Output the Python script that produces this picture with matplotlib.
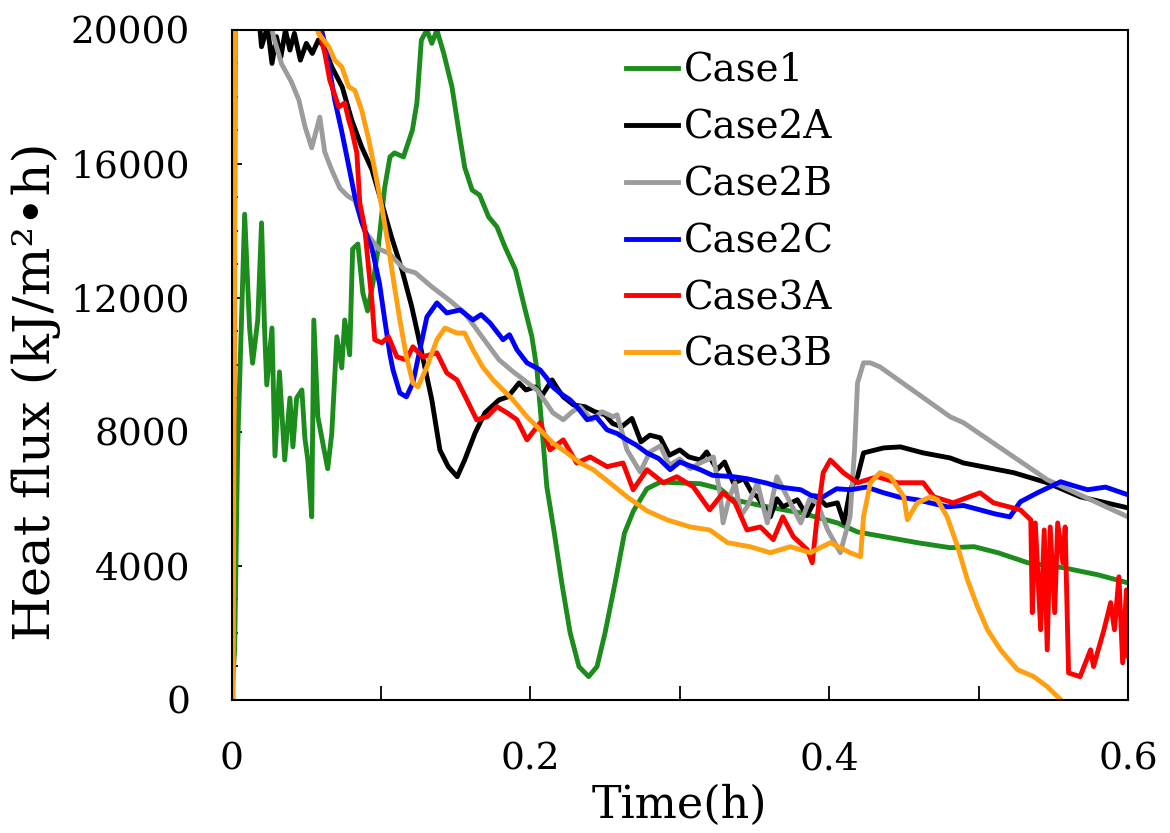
import numpy as np
import matplotlib
matplotlib.use('Agg')
from matplotlib import pyplot as plt
from matplotlib.ticker import MultipleLocator

# 数据（从原图读取，单位：h, kJ/m2·h）
case1_t = [0.0, 0.002, 0.004, 0.0087, 0.012, 0.014, 0.0175, 0.02, 0.022, 0.0235, 0.027,
           0.029, 0.032, 0.0355, 0.039, 0.041, 0.0435, 0.047, 0.049, 0.051, 0.0536, 0.055,
           0.0577, 0.061, 0.0643, 0.067, 0.0704, 0.0737, 0.0757, 0.079, 0.081, 0.0845,
           0.0878, 0.091, 0.0945, 0.098, 0.1025, 0.106, 0.109, 0.115, 0.121, 0.124, 0.127,
           0.1307, 0.134, 0.1374, 0.142, 0.1475, 0.152, 0.156, 0.161, 0.166, 0.172, 0.1776,
           0.183, 0.19, 0.196, 0.201, 0.2044, 0.208, 0.211, 0.216, 0.221, 0.2266, 0.2325,
           0.239, 0.2446, 0.25, 0.2567, 0.263, 0.269, 0.278, 0.287, 0.3137, 0.327, 0.336,
           0.3586, 0.381, 0.4055, 0.419, 0.4365, 0.459, 0.481, 0.497, 0.513, 0.533, 0.557,
           0.58, 0.6]
case1_v = [0, 1500, 7500, 14500, 11100, 10050, 11350, 14240, 11100, 9400, 11100,
           7280, 9790, 7160, 9010, 7550, 9010, 9250, 7820, 7160, 5460, 11340,
           8450, 7670, 6900, 7940, 10840, 9910, 11340, 10300, 13460, 13610,
           12150, 11610, 12420, 13460, 15310, 16210, 16330, 16210, 17010, 17820, 19700,
           20000, 19600, 20000, 19300, 18300, 17010, 15900, 15220, 15070, 14420, 14120,
           13520, 12840, 11730, 10840, 9850, 7970, 6360, 4980, 3490, 2000, 990,
           690, 990, 2000, 3490, 4980, 5640, 6300, 6500, 6450, 6300, 5970,
           5760, 5580, 5280, 5010, 4870, 4690, 4540, 4570, 4390, 4090, 3940,
           3730, 3490]

case2a_t = [0.018, 0.02, 0.024, 0.027, 0.03, 0.033, 0.036, 0.039, 0.042, 0.046, 0.05,
            0.054, 0.058, 0.062, 0.067, 0.074, 0.0804, 0.087, 0.094, 0.1005, 0.107, 0.114,
            0.1206, 0.125, 0.134, 0.1394, 0.145, 0.151, 0.156, 0.163, 0.1696, 0.179, 0.185,
            0.1924, 0.197, 0.203, 0.208, 0.2145, 0.218, 0.222, 0.229, 0.2366, 0.243, 0.25,
            0.255, 0.261, 0.268, 0.274, 0.28, 0.287, 0.293, 0.3, 0.306, 0.3137, 0.318,
            0.325, 0.33, 0.336, 0.343, 0.348, 0.352, 0.3606, 0.365, 0.369, 0.3787, 0.385,
            0.392, 0.398, 0.4055, 0.41, 0.414, 0.419, 0.423, 0.4365, 0.4477, 0.463,
            0.481, 0.49, 0.5235, 0.546, 0.568, 0.6]
case2a_v = [20500, 19500, 20100, 19000, 19800, 19200, 20000, 19400, 19900, 19100, 19600,
            19300, 19700, 19500, 18900, 18300, 17310, 16510, 15820, 14830, 13820, 12840,
            11730, 10840, 8955, 7460, 6960, 6660, 7160, 7970, 8570, 8955, 9045,
            9460, 9250, 9340, 9100, 9550, 9300, 9045, 8800, 8750, 8600, 8510,
            8250, 8150, 8400, 7700, 7900, 7820, 7300, 7460, 7250, 7160, 7400,
            6870, 7100, 6470, 6600, 6200, 6060, 5460, 6000, 5760, 5970, 5500,
            6060, 5800, 5880, 5280, 6270, 6660, 7370, 7520, 7550, 7370,
            7220, 7070, 6780, 6480, 6060, 5730]

case2b_t = [0.025, 0.028, 0.0335, 0.04, 0.045, 0.049, 0.0536, 0.059, 0.0623, 0.067,
            0.0724, 0.0777, 0.0824, 0.089, 0.0985, 0.105, 0.116, 0.123, 0.134, 0.1455,
            0.156, 0.1676, 0.179, 0.1883, 0.193, 0.2044, 0.21, 0.215, 0.222, 0.228,
            0.2333, 0.241, 0.248, 0.2554, 0.258, 0.2647, 0.2735, 0.28, 0.287, 0.293, 0.3,
            0.307, 0.3137, 0.3225, 0.327, 0.329, 0.333, 0.337, 0.341, 0.345, 0.352, 0.3586,
            0.365, 0.374, 0.381, 0.387, 0.392, 0.399, 0.4075, 0.414, 0.417, 0.419, 0.423,
            0.4276, 0.434, 0.481, 0.49, 0.546, 0.6]
case2b_v = [20500, 19800, 18980, 18450, 17910, 17130, 16480, 17400, 16360, 15820,
            15280, 15040, 14920, 14000, 13460, 13340, 12840, 12750, 12330, 11940,
            11550, 10840, 10150, 9800, 9640, 9250, 8900, 8570, 8360, 8600,
            8750, 8360, 8600, 8450, 8510, 7460, 6800, 7400, 7580, 7000, 7190,
            6900, 7070, 7250, 6150, 5280, 6000, 6470, 5500, 5760, 6470, 5280,
            6660, 5880, 5280, 6000, 5880, 5070, 4390, 5460, 7460, 9460, 10060,
            10060, 9940, 8450, 8270, 6570, 5460]

case2c_t = [0.059, 0.063, 0.069, 0.0735, 0.0777, 0.0824, 0.087, 0.094, 0.099, 0.1025,
            0.106, 0.108, 0.1126, 0.117, 0.1213, 0.126, 0.1307, 0.1374, 0.144, 0.153,
            0.1615, 0.167, 0.173, 0.1817, 0.186, 0.191, 0.1977, 0.2065, 0.211, 0.215,
            0.22, 0.2266, 0.232, 0.238, 0.244, 0.2513, 0.258, 0.2647, 0.271, 0.278, 0.286,
            0.2936, 0.3, 0.3137, 0.322, 0.336, 0.345, 0.358, 0.367, 0.381, 0.388, 0.396,
            0.405, 0.414, 0.425, 0.4365, 0.447, 0.459, 0.479, 0.49, 0.501, 0.511, 0.521,
            0.528, 0.5395, 0.555, 0.563, 0.573, 0.585, 0.6]
case2c_v = [20200, 19500, 17910, 17010, 16090, 15040, 14270, 13460, 12420, 11340,
            10300, 9850, 9160, 9045, 9460, 10450, 11430, 11850, 11550, 11640,
            11340, 11500, 11250, 10750, 10900, 10450, 10060, 9850, 9600, 9340,
            9150, 8955, 8700, 8360, 8450, 8060, 7950, 7760, 7600, 7370, 7200,
            6870, 7100, 6870, 6700, 6660, 6600, 6470, 6350, 6270, 6100, 6060,
            6300, 6270, 6350, 6180, 6050, 5970, 5760, 5800, 5670, 5550, 5460,
            5910, 6180, 6510, 6400, 6270, 6350, 6120]

case3a_t = [0.0, 0.001, 0.0025, 0.055, 0.0585, 0.0624, 0.0657, 0.0717, 0.0757, 0.0784,
            0.0804, 0.0838, 0.0858, 0.089, 0.0918, 0.094, 0.0958, 0.1005, 0.105, 0.1106,
            0.117, 0.1213, 0.128, 0.1374, 0.144, 0.1508, 0.1575, 0.164, 0.171, 0.1776,
            0.1843, 0.191, 0.1977, 0.2065, 0.2131, 0.222, 0.231, 0.24, 0.2513, 0.262,
            0.2688, 0.278, 0.289, 0.298, 0.309, 0.32, 0.329, 0.337, 0.345, 0.354, 0.3626,
            0.369, 0.376, 0.3854, 0.3887, 0.392, 0.396, 0.4008, 0.4095, 0.419, 0.4323,
            0.4457, 0.463, 0.47, 0.483, 0.501, 0.51, 0.528, 0.535, 0.536, 0.538, 0.5416,
            0.544, 0.546, 0.548, 0.551, 0.553, 0.5565, 0.558, 0.5603, 0.568, 0.575,
            0.577, 0.584, 0.5885, 0.591, 0.594, 0.5965, 0.599, 0.6]
case3a_v = [0, 2500, 21000, 21000, 20000, 19300, 18500, 17700, 17820, 17310,
            17010, 16330, 14830, 14120, 12840, 11850, 10750, 10660, 10840, 10240,
            10150, 10540, 10240, 10360, 9760, 9550, 8955, 8360, 8450, 8750,
            8570, 8360, 7760, 8270, 7460, 7760, 7070, 7250, 6960, 7070,
            6270, 6870, 6480, 6660, 6360, 5670, 6180, 5880, 5070, 5160, 4780,
            5460, 4870, 4480, 4090, 5460, 6780, 7160, 6780, 6480, 6660,
            6480, 6480, 6060, 5880, 6180, 5880, 5670, 5370, 2600, 5280, 2090,
            5070, 1490, 5160, 2600, 5280, 4090, 5160, 800, 690, 1490,
            990, 2090, 2900, 2090, 3670, 1100, 3280, 1300]

case3b_t = [0.001, 0.0025, 0.055, 0.058, 0.0616, 0.065, 0.069, 0.0737, 0.0784, 0.0824,
            0.087, 0.0918, 0.0958, 0.1005, 0.105, 0.109, 0.1126, 0.117, 0.1213, 0.1247,
            0.1307, 0.1374, 0.1428, 0.1508, 0.156, 0.1615, 0.168, 0.175, 0.1817, 0.1883,
            0.1977, 0.2065, 0.215, 0.2245, 0.2333, 0.242, 0.2534, 0.2647, 0.278, 0.2916,
            0.307, 0.32, 0.332, 0.347, 0.3606, 0.374, 0.3874, 0.4008, 0.414, 0.421,
            0.423, 0.4276, 0.434, 0.441, 0.45, 0.4524, 0.455, 0.459, 0.468, 0.4725,
            0.479, 0.486, 0.4926, 0.4993, 0.506, 0.5147, 0.526, 0.537, 0.546, 0.555]
case3b_v = [0, 21000, 20500, 19900, 19700, 19500, 19100, 18900, 18300, 18200,
            17610, 16720, 15820, 14720, 13520, 12330, 11340, 10240, 9460, 9340,
            9940, 10750, 11100, 10950, 10950, 10450, 9940, 9550, 9250, 8955,
            8450, 8060, 7670, 7370, 7070, 6870, 6470, 6060, 5640, 5370,
            5160, 5070, 4690, 4570, 4390, 4570, 4390, 4690, 4390, 4270,
            5460, 6480, 6780, 6660, 6060, 5370, 5580, 5880, 6060, 5970,
            5460, 4570, 3580, 2780, 2090, 1490, 900, 690, 390, 0]

labels = ['Case1', 'Case2A', 'Case2B', 'Case2C', 'Case3A', 'Case3B']
colors = ['#1c8c1c', '#000000', '#9c9c9c', '#0000ff', '#ff0000', '#ffa010']

plt.rcParams['font.family'] = ['DejaVu Serif', 'Noto Sans CJK JP']

fig = plt.figure(figsize=(11.7, 8.33), dpi=100)
ax = fig.add_axes([0.198, 0.16, 0.766, 0.804])

series = [(case1_t, case1_v), (case2a_t, case2a_v), (case2b_t, case2b_v),
          (case2c_t, case2c_v), (case3a_t, case3a_v), (case3b_t, case3b_v)]
for (t, v), lab, c in zip(series, labels, colors):
    ax.plot(t, v, color=c, lw=3.5, label=lab, solid_joinstyle='round')

ax.set_xlim(0, 0.6)
ax.set_ylim(0, 20000)
ax.xaxis.set_major_locator(MultipleLocator(0.2))
ax.xaxis.set_minor_locator(MultipleLocator(0.1))
ax.yaxis.set_major_locator(MultipleLocator(4000))
ax.yaxis.set_minor_locator(MultipleLocator(1000))
ax.set_xticklabels(['0' if abs(x) < 1e-9 else '%g' % x for x in ax.get_xticks()])
ax.tick_params(axis='both', which='both', direction='in', labelsize=27, pad=30,
               top=False, right=False, width=1.3)
ax.tick_params(axis='x', which='both', length=10)
ax.tick_params(axis='y', which='major', length=7)
ax.tick_params(axis='y', which='minor', length=4)
for s in ax.spines.values():
    s.set_linewidth(1.5)

ax.set_xlabel('Time(h)', fontsize=32)
ax.xaxis.set_label_coords(0.5, -0.125)
ax.set_ylabel('Heat flux (kJ/m²•h)', fontsize=37)
ax.yaxis.set_label_coords(-0.19, 0.46)

ax.legend(loc='upper left', bbox_to_anchor=(0.44, 0.966), frameon=False, fontsize=28,
          handlelength=1.35, handletextpad=0.15, labelspacing=0.51, borderpad=0,
          borderaxespad=0)

fig.savefig('out.png', dpi=100)
